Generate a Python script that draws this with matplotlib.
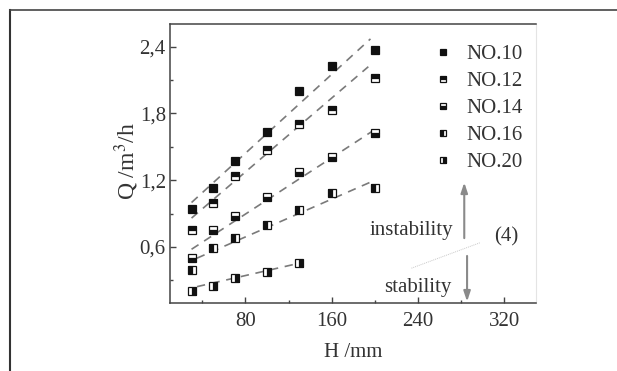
import matplotlib
matplotlib.use("Agg")
import matplotlib.pyplot as plt
from matplotlib.lines import Line2D

# ---------------------------------------------------#
# data
# ---------------------------------------------------#
h_mm = [30, 50, 70, 100, 130, 160, 200]
q_no10 = [0.94, 1.13, 1.375, 1.63, 2.005, 2.23, 2.37]
q_no12 = [0.754, 1.00, 1.234, 1.474, 1.708, 1.834, 2.12]
q_no14 = [0.50, 0.754, 0.88, 1.054, 1.27, 1.41, 1.625]
q_no16 = [0.39, 0.59, 0.68, 0.80, 0.93, 1.085, 1.13]
h_no20 = [30, 50, 70, 100, 130]
q_no20 = [0.205, 0.253, 0.32, 0.38, 0.46]

series_names = ["NO.10", "NO.12", "NO.14", "NO.16", "NO.20"]
series_fill = ["full", "top", "bottom", "left", "right"]

# dashed fit lines, start / end
fit_h = [[30, 196], [30, 194], [30, 200], [35, 200], [35, 130]]
fit_q = [[1.00, 2.47], [0.86, 2.22], [0.58, 1.655], [0.50, 1.20], [0.244, 0.455]]

x_ticks = [80, 160, 240, 320]
y_ticks = [0.6, 1.2, 1.8, 2.4]
y_tick_labels = ["0,6", "1,2", "1,8", "2,4"]

plt.rcParams["font.family"] = ["Liberation Serif", "DejaVu Serif"]
plt.rcParams["mathtext.fontset"] = "stix"
txt_c = "#333333"

fig = plt.figure(figsize=(6.17, 3.71), dpi=100)
ax = fig.add_axes([0.2755, 0.1841, 0.594, 0.7501])

# fit lines
for fx, fy in zip(fit_h, fit_q):
    ax.plot(fx, fy, ls=(0, (5, 4)), color="#7a7a7a", lw=1.2, zorder=1)

# markers
all_x = [h_mm, h_mm, h_mm, h_mm, h_no20]
all_y = [q_no10, q_no12, q_no14, q_no16, q_no20]
for xx, yy, name, fs in zip(all_x, all_y, series_names, series_fill):
    ax.plot(xx, yy, ls="none", marker="s", ms=5.6, mew=0.9, mec="#111111",
            mfc="#111111", mfcalt="white", fillstyle=fs, label=name, zorder=3)

# arrows and annotations
arrow_kw = dict(arrowstyle="-|>,head_length=0.6,head_width=0.2", color="#8a8a8a", lw=1.5,
                shrinkA=0, shrinkB=0)
ax.annotate("", xy=(283, 1.18), xytext=(283, 0.68), arrowprops=arrow_kw)
ax.annotate("", xy=(285.6, 0.11), xytext=(285.6, 0.52), arrowprops=arrow_kw)
ax.plot([234, 298], [0.41, 0.64], color="#c8c8c8", lw=0.7, ls=(0, (1, 1)), zorder=1)
ax.text(195, 0.75, "instability", fontsize=15, color=txt_c, ha="left", va="center")
ax.text(209, 0.235, "stability", fontsize=15, color=txt_c, ha="left", va="center")
ax.text(311, 0.69, "(4)", fontsize=15, color=txt_c, ha="left", va="center")

# axes
ax.set_xlim(10, 350)
ax.set_ylim(0.1, 2.6)
ax.set_xticks(x_ticks)
ax.set_xticks([40, 120, 200, 280], minor=True)
ax.set_yticks(y_ticks)
ax.set_yticklabels(y_tick_labels)
ax.set_yticks([0.3, 0.9, 1.5, 2.1], minor=True)
ax.tick_params(which="both", direction="in", colors="#444444", labelcolor=txt_c, labelsize=15)
ax.tick_params(which="major", length=4, width=1)
ax.tick_params(which="minor", length=2.5, width=1)
ax.tick_params(axis="x", which="major", pad=7)
ax.tick_params(axis="y", which="major", pad=3)
for side in ["left", "top", "bottom"]:
    ax.spines[side].set_color("#444444")
    ax.spines[side].set_linewidth(1.1)
ax.spines["right"].set_color("#e4e4e4")
ax.spines["right"].set_linewidth(0.8)

ax.set_xlabel("H /mm", fontsize=15, color=txt_c, labelpad=8)
ax.set_ylabel("Q /m$^{3}$/h", fontsize=17, color=txt_c)
ax.yaxis.set_label_coords(-0.078, 0.51)

leg = ax.legend(loc="upper left", bbox_to_anchor=(0.7214, 0.928), frameon=False, fontsize=15,
                handlelength=0.8, handletextpad=0.72, labelspacing=0.36, borderpad=0,
                borderaxespad=0, markerscale=0.75)
for t in leg.get_texts():
    t.set_color(txt_c)

# outer frame (left and top only)
fig.add_artist(Line2D([10 / 617, 10 / 617], [0, 1 - 10 / 371], transform=fig.transFigure,
                      color="#333333", lw=1.5))
fig.add_artist(Line2D([10 / 617, 1], [1 - 10 / 371, 1 - 10 / 371], transform=fig.transFigure,
                      color="#444444", lw=1.2))

plt.savefig("out.png", dpi=100)
plt.close()
